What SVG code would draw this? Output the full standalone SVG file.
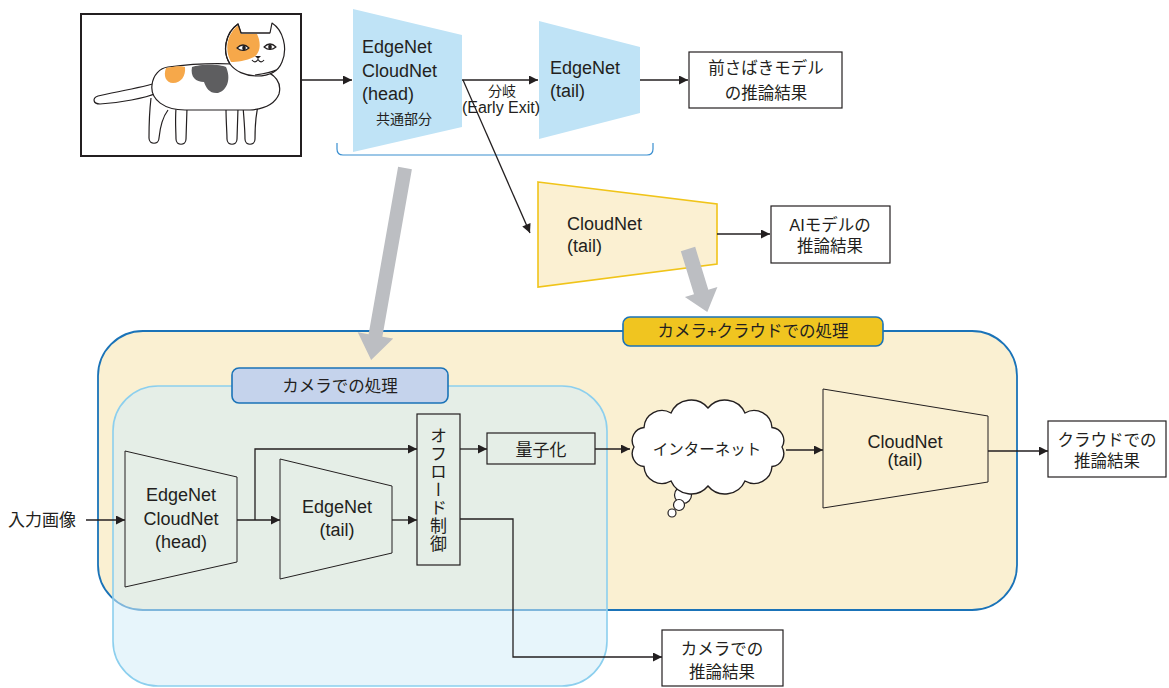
<svg xmlns="http://www.w3.org/2000/svg" width="1169" height="688" viewBox="0 0 1169 688">
  <style>
    text { font-family: "Liberation Sans", "Noto Sans CJK JP", sans-serif; fill: #231f20; }
    .en { font-size: 18px; }
    .jp { font-size: 16.5px; }
    .mid { text-anchor: middle; }
    .ln { fill: none; stroke: #231f20; stroke-width: 1.3; }
    .arr { fill: none; stroke: #231f20; stroke-width: 1.3; marker-end: url(#ah); }
    .box { fill: #ffffff; stroke: #231f20; stroke-width: 1.2; }
    .trap { fill: none; stroke: #231f20; stroke-width: 1; }
    .cat { stroke: #231f20; stroke-width: 1.2; stroke-linejoin: round; }
    .big { fill: #bcbec2; }
  </style>
  <defs>
    <marker id="ah" viewBox="0 0 10 10" refX="10" refY="5" markerWidth="11" markerHeight="9" markerUnits="userSpaceOnUse" orient="auto">
      <path d="M0,0 L10,5 L0,10 Z" fill="#231f20"/>
    </marker>
  </defs>

  <!-- containers -->
  <g id="cloud-area">
    <rect x="98" y="331" width="919" height="279" rx="45" fill="#faf0d2" stroke="#1a73b8" stroke-width="1.8"/>
  </g>
  <g id="camera-area">
    <rect x="113" y="386" width="494" height="300" rx="45" fill="#d4ecf8" fill-opacity="0.55" stroke="#8ccfee" stroke-width="1.6"/>
  </g>

  <!-- input picture: cat -->
  <g id="input-picture">
    <rect x="81" y="14" width="220" height="142" fill="#ffffff" stroke="#231f20" stroke-width="2"/>
    <path class="cat" fill="#ffffff" d="M160,82 C140,88 115,92 98,96 C92,98 93,104 100,104 C120,103 145,98 157,93 Z"/>
    <path class="cat" fill="#ffffff" d="M151,98 C149,115 149,128 149,138 C149,145 159,145 159,138 C160,128 162,118 168,110"/>
    <path class="cat" fill="#ffffff" d="M176,108 C175,122 176,132 176,139 C176,146 186,146 186,139 L187,108"/>
    <path class="cat" fill="#ffffff" d="M226,108 C226,122 227,132 227,139 C227,146 237,146 237,139 L238,108"/>
    <path class="cat" fill="#ffffff" d="M243,106 C244,120 245,130 245,139 C245,146 255,146 255,139 C255,125 256,112 259,103"/>
    <path class="cat" fill="#ffffff" d="M168,67 C190,64 215,63 235,64 C262,66 284,75 279,94 C275,104 264,109 250,110 L185,110 C165,110 150,100 152,85 C153,75 160,68 168,67 Z"/>
    <path fill="#f6a84a" d="M166,68 C175,66 182,66 185,67 C186,76 181,83 173,83 C166,83 163,76 166,68 Z"/>
    <path fill="#5e5e60" d="M192,67 C200,64 220,64 226,67 C231,78 228,90 218,93 C210,94 206,88 204,82 C196,82 190,77 192,67 Z"/>
    <path class="cat" fill="#ffffff" d="M230,64 C222,52 225,33 238,24 L241,33 L270,33 L272,23 C283,30 288,48 282,62 C278,72 268,76 257,76 C245,76 235,71 230,64 Z"/>
    <path fill="#f6a84a" d="M238.6,25 L241,34 L257,34 C261,42 261,52 254,57 C246,61 237,62 231,62 C224,50 227,33 238.6,25 Z"/>
    <path class="cat" fill="none" d="M230,64 C222,52 225,33 238,24 L241,33 L270,33"/>
    <path class="cat" fill="#ffffff" d="M237,48 Q243,42 249,48 Q243,53 237,48 Z"/>
    <ellipse cx="244" cy="48" rx="1.8" ry="2.8" fill="#231f20"/>
    <path class="cat" fill="#ffffff" d="M264,47 Q270,41 276,47 Q270,52 264,47 Z"/>
    <ellipse cx="270" cy="47" rx="1.8" ry="2.8" fill="#231f20"/>
    <path d="M255,56 L261,56 L258,59 Z" fill="#231f20"/>
    <path class="cat" fill="none" d="M252,60 Q255,64 258,59.5 Q261,64 264,60"/>
    <path class="cat" fill="none" d="M255,75 C262,74 270,73 276,70"/>
  </g>

  <!-- upper network -->
  <g id="top-head">
    <polygon points="353,9 462,35 462,127 353,152" fill="#bfe3f6"/>
    <text class="en" x="362" y="53">EdgeNet</text>
    <text class="en" x="362" y="77">CloudNet</text>
    <text class="en" x="362" y="100">(head)</text>
    <text class="mid" x="404" y="124" font-size="14">共通部分</text>
  </g>
  <g id="top-edge-tail">
    <polygon points="539,21 640,47 640,113 539,139" fill="#bfe3f6"/>
    <text class="en" x="550" y="74">EdgeNet</text>
    <text class="en" x="550" y="97">(tail)</text>
  </g>
  <g id="top-cloud-tail">
    <polygon points="538,182 717,204 717,264 538,287" fill="#fbf0d2" stroke="#f0c419" stroke-width="1.6"/>
    <text class="en" x="567" y="230">CloudNet</text>
    <text class="en" x="567" y="252">(tail)</text>
  </g>
  <g id="early-result">
    <rect class="box" x="689" y="52" width="153" height="56"/>
    <text class="jp mid" x="766" y="74">前さばきモデル</text>
    <text class="jp mid" x="766" y="99">の推論結果</text>
  </g>
  <g id="ai-result">
    <rect class="box" x="771" y="206" width="119" height="57"/>
    <text class="jp mid" x="830" y="231">AIモデルの</text>
    <text class="jp mid" x="830" y="252">推論結果</text>
  </g>
  <g id="branch-label">
    <text class="mid" x="502" y="96" font-size="14">分岐</text>
    <text class="mid" x="501" y="113" font-size="16">(Early Exit)</text>
  </g>
  <path id="shared-bracket" d="M337,143 L337,149 Q337,155 343,155 L647,155 Q653,155 653,149 L653,143" fill="none" stroke="#3a8fd0" stroke-width="1.2"/>

  <!-- lower pipeline -->
  <g id="cloud-label">
    <rect x="623" y="317" width="260" height="29" rx="7" fill="#f0c520" stroke="#1a73b8" stroke-width="1.6"/>
    <text class="jp mid" x="753" y="337">カメラ+クラウドでの処理</text>
  </g>
  <g id="camera-label">
    <rect x="232" y="368" width="216" height="35" rx="7" fill="#c5d3ec" stroke="#1a73b8" stroke-width="1.6"/>
    <text class="jp mid" x="340" y="392">カメラでの処理</text>
  </g>
  <g id="input-label">
    <text x="8" y="526" font-size="17">入力画像</text>
  </g>
  <g id="low-head">
    <polygon class="trap" points="125,451 237,477 237,562 125,587"/>
    <text class="en mid" x="181" y="501">EdgeNet</text>
    <text class="en mid" x="181" y="525">CloudNet</text>
    <text class="en mid" x="181" y="548">(head)</text>
  </g>
  <g id="low-edge-tail">
    <polygon class="trap" points="280,459 392,486 392,553 280,579"/>
    <text class="en mid" x="337" y="513">EdgeNet</text>
    <text class="en mid" x="337" y="536">(tail)</text>
  </g>
  <g id="offload">
    <rect class="box" x="417" y="414" width="43" height="151" style="fill:none"/>
    <text x="438.5" y="490" font-size="17" letter-spacing="1" text-anchor="middle" style="writing-mode: vertical-rl; font-family: 'Noto Sans CJK JP', sans-serif;">オフロード制御</text>
  </g>
  <g id="quantize">
    <rect class="box" x="487" y="433" width="108" height="31" style="fill:none"/>
    <text class="mid" x="541" y="456" font-size="17">量子化</text>
  </g>
  <g id="internet">
    <circle cx="683" cy="495" r="8.5" fill="#ffffff" stroke="#231f20" stroke-width="1.2"/>
    <circle cx="679" cy="505" r="5.5" fill="#ffffff" stroke="#231f20" stroke-width="1.2"/>
    <circle cx="672" cy="513" r="4" fill="#ffffff" stroke="#231f20" stroke-width="1.2"/>
    <path fill="#ffffff" stroke="#231f20" stroke-width="1.4" d="M782,447 A13,13 0 0 1 772,466.5 A18,18 0 0 1 745,481 A22,22 0 0 1 708,486 A22,22 0 0 1 671,481 A18,18 0 0 1 644,466.5 A13,13 0 0 1 634,447 A13,13 0 0 1 644,427.5 A18,18 0 0 1 671,413 A22,22 0 0 1 708,408 A22,22 0 0 1 745,413 A18,18 0 0 1 772,427.5 A13,13 0 0 1 782,447 Z"/>
    <text class="mid" x="707" y="455" font-size="15.5">インターネット</text>
  </g>
  <g id="low-cloud-tail">
    <polygon class="trap" points="823,389 988,416 988,482 823,508"/>
    <text class="en mid" x="905" y="448">CloudNet</text>
    <text class="en mid" x="905" y="466">(tail)</text>
  </g>
  <g id="cloud-result">
    <rect class="box" x="1048" y="421" width="118" height="56"/>
    <text class="jp mid" x="1107" y="446">クラウドでの</text>
    <text class="jp mid" x="1107" y="467">推論結果</text>
  </g>
  <g id="camera-result">
    <rect class="box" x="662" y="630" width="121" height="56"/>
    <text class="jp mid" x="722" y="655">カメラでの</text>
    <text class="jp mid" x="722" y="678">推論結果</text>
  </g>

  <!-- connectors -->
  <g id="connectors">
    <path class="arr" d="M301,80 L352,80"/>
    <path class="arr" d="M462,80 L538,80"/>
    <path class="arr" d="M640,80 L688,80"/>
    <path class="arr" d="M463,80 L530,233"/>
    <path class="arr" d="M717,234 L770,234"/>
    <path class="arr" d="M86,520 L125,520"/>
    <path class="arr" d="M237,520 L280,520"/>
    <path class="arr" d="M255,520 L255,449 L417,449"/>
    <path class="arr" d="M392,520 L417,520"/>
    <path class="arr" d="M460,449 L487,449"/>
    <path class="arr" d="M595,449 L630,449"/>
    <path class="arr" d="M786,450 L823,450"/>
    <path class="arr" d="M988,451 L1048,451"/>
    <path class="arr" d="M460,519 L513,519 L513,657 L662,657"/>
  </g>

  <!-- wide gray arrows -->
  <g id="flow-arrows">
    <polygon class="big" transform="translate(405,168) rotate(10)" points="-7,0 7,0 7,170 18,170 0,195 -18,170 -7,170"/>
    <polygon class="big" transform="translate(688,249) rotate(-17)" points="-7.5,0 7.5,0 7.5,45 17,45 0,66 -17,45 -7.5,45"/>
  </g>
</svg>
